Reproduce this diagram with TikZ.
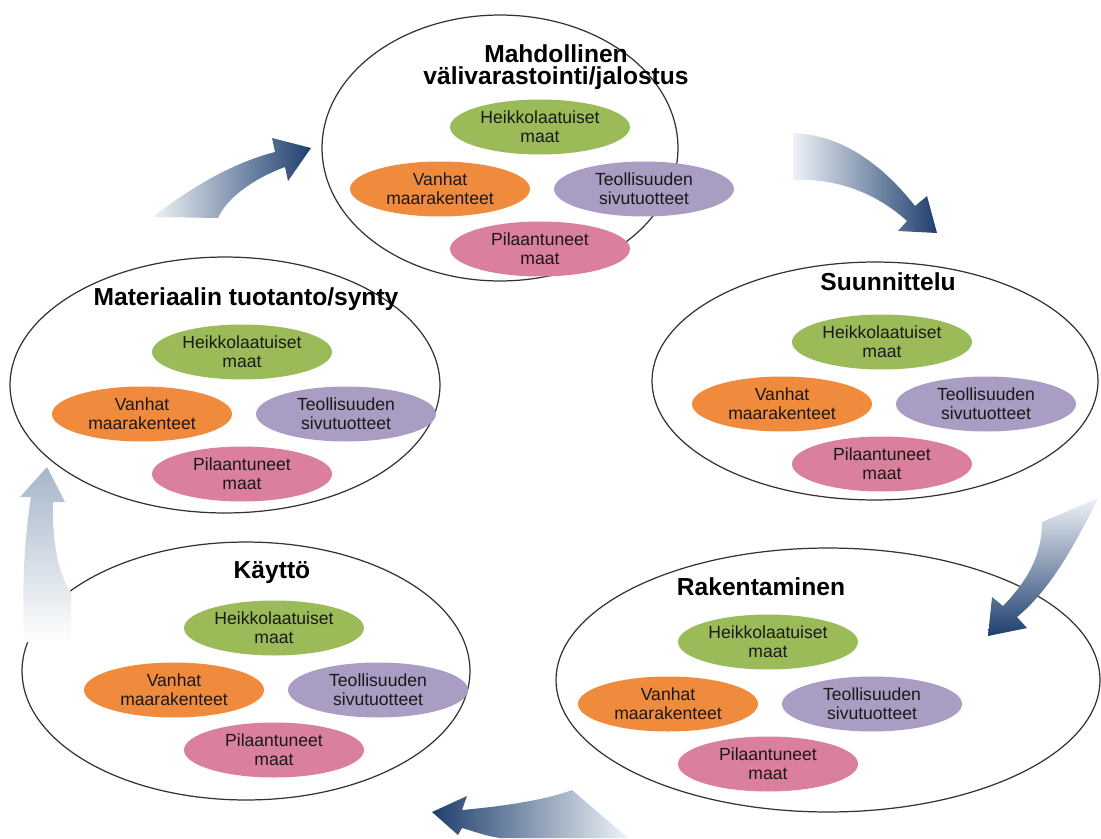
\documentclass[tikz,border=0pt]{standalone}
\usepackage{fontspec}
\setmainfont{Liberation Sans}
\usetikzlibrary{shapes.geometric}
\definecolor{soilgreen}{HTML}{9BBB59}
\definecolor{soilorange}{HTML}{F08A3C}
\definecolor{soilpurple}{HTML}{A99DC4}
\definecolor{soilpink}{HTML}{DA7F9C}
\definecolor{arrowdark}{HTML}{1F3F6E}
\definecolor{arrowlight}{HTML}{EEF2F7}
\definecolor{arrowpale}{HTML}{A5B6CA}
\begin{document}
\begin{tikzpicture}[x=0.02cm, y=-0.02cm,
	phase/.style = {ellipse, draw=black!80, line width=0.7pt, inner sep=0pt},
	phasetitle/.style = {align=center, font=\fontsize{14}{12.5}\selectfont\bfseries},
	soil/.style = {ellipse, inner sep=0pt, minimum width=3.6cm, minimum height=1.1cm,
		align=center, text=black!90, font=\fontsize{10}{11}\selectfont},
	soils/.pic = {
		\node[soil, fill=soilgreen] (-heikko) at (0,-62) {Heikkolaatuiset\\maat};
		\node[soil, fill=soilorange] (-vanhat) at (-100,0) {Vanhat\\maarakenteet};
		\node[soil, fill=soilpurple] (-teoll) at (104,0) {Teollisuuden\\sivutuotteet};
		\node[soil, fill=soilpink] (-pilaa) at (0,60) {Pilaantuneet\\maat};}
	]
	\useasboundingbox (0,0) rectangle (1101,838);
	\node[phase, minimum width=7.12cm, minimum height=5.32cm] (jalostus) at (500,148) {};
	\node[phase, minimum width=8.6cm, minimum height=5.12cm] (synty) at (225,385) {};
	\node[phase, minimum width=8.92cm, minimum height=4.76cm] (suunn) at (875,381) {};
	\node[phase, minimum width=8.96cm, minimum height=5.16cm] (kaytto) at (246,671) {};
	\node[phase, minimum width=10.88cm, minimum height=5.28cm] (rakent) at (828,680) {};
	\node[phasetitle] (jalostus-title) at (556,67) {Mahdollinen\\välivarastointi/jalostus};
	\node[phasetitle] (synty-title) at (246,299) {Materiaalin tuotanto/synty};
	\node[phasetitle] (suunn-title) at (888,282) {Suunnittelu};
	\node[phasetitle] (kaytto-title) at (272,573) {Käyttö};
	\node[phasetitle] (rakent-title) at (761,587) {Rakentaminen};
	\pic (jalostus) at (540,189) {soils};
	\pic (synty) at (242,414) {soils};
	\pic (suunn) at (882,404) {soils};
	\pic (kaytto) at (274,690) {soils};
	\pic (rakent) at (768,704) {soils};
	\shade[left color=arrowlight, right color=arrowdark] (153,217) .. controls (190,188) and (232,163) .. (275,152)
		-- (272,138) -- (311,148) -- (288,181) -- (285,167) .. controls (260,176) and (228,195) .. (218,218) -- cycle;
	\shade[left color=arrowlight, right color=arrowdark] (793,133) .. controls (845,135) and (885,168) .. (915,206)
		-- (927,196) -- (937,233) -- (898,231) -- (907,221) .. controls (875,192) and (835,178) .. (793,180) -- cycle;
	\shade[top color=arrowlight, bottom color=arrowdark] (1098,498) .. controls (1075,545) and (1050,590) .. (1017,617)
		-- (1027,628) -- (988,636) -- (992,597) -- (1003,606) .. controls (1028,580) and (1042,555) .. (1042,522) -- cycle;
	\shade[left color=arrowdark, right color=arrowlight] (432,812) -- (467,796) -- (462,810)
		.. controls (505,806) and (545,800) .. (572,790) -- (628,838) -- (500,838)
		.. controls (485,836) and (470,830) .. (462,828) -- (458,835) -- cycle;
	\shade[top color=arrowpale, bottom color=white] (47,467) -- (65,502) -- (53,502)
		.. controls (52,540) and (58,575) .. (71,592) -- (71,642) -- (24,642)
		.. controls (22,590) and (24,540) .. (31,497) -- (20,497) -- cycle;
\end{tikzpicture}
\end{document}
